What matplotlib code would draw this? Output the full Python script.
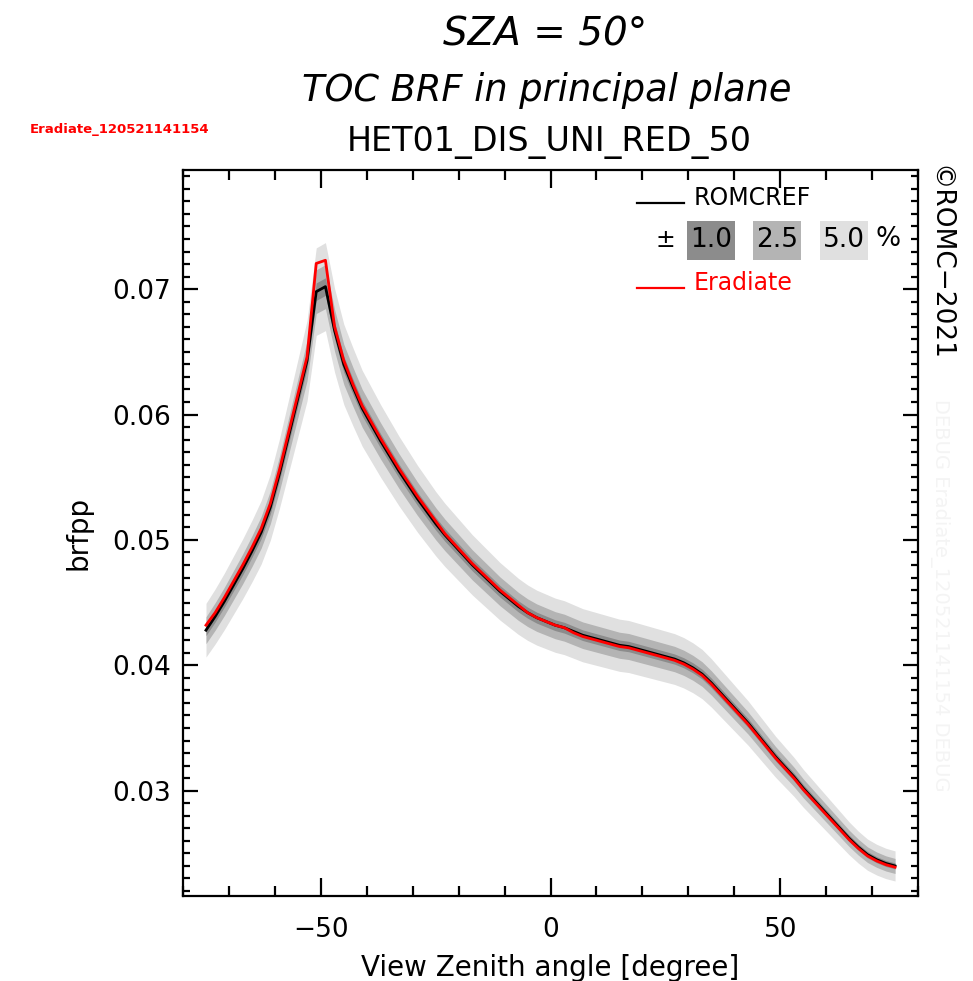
import numpy as np
import matplotlib
matplotlib.use('Agg')
from matplotlib import pyplot as plt
from matplotlib.patches import Rectangle
from matplotlib.ticker import MultipleLocator

plt.rcParams['font.family'] = ['DejaVu Sans']

# view zenith angles (degree)
vza = [-75, -73, -71, -69, -67, -65, -63, -61, -59, -57, -55, -53, -51, -49,
       -47, -45, -43, -41, -39, -37, -35, -33, -31, -29, -27, -25, -23, -21,
       -19, -17, -15, -13, -11, -9, -7, -5, -3, -1, 1, 3, 5, 7, 9, 11, 13, 15,
       17, 19, 21, 23, 25, 27, 29, 31, 33, 35, 37, 39, 41, 43, 45, 47, 49, 51,
       53, 55, 57, 59, 61, 63, 65, 67, 69, 71, 73, 75]

romcref = [0.0428, 0.0439, 0.0451, 0.0464, 0.0477, 0.0491, 0.0506, 0.0526,
           0.0553, 0.0583, 0.0613, 0.0643, 0.0698, 0.0702, 0.0667, 0.0640,
           0.0622, 0.0605, 0.0592, 0.0579, 0.0567, 0.0555, 0.0544, 0.0533,
           0.0523, 0.0513, 0.0504, 0.0496, 0.0488, 0.0480, 0.0473, 0.0466,
           0.0459, 0.0453, 0.0447, 0.0442, 0.0438, 0.0435, 0.0432, 0.0430,
           0.0427, 0.0424, 0.0422, 0.0420, 0.0418, 0.0416, 0.0415, 0.0413,
           0.0411, 0.0409, 0.0407, 0.0405, 0.0402, 0.0398, 0.0393, 0.0386,
           0.0378, 0.0370, 0.0362, 0.0354, 0.0345, 0.0336, 0.0327, 0.0319,
           0.0311, 0.0302, 0.0294, 0.0286, 0.0278, 0.0270, 0.0262, 0.0255,
           0.0249, 0.0245, 0.0242, 0.0240]

eradiate = [0.0432, 0.0442, 0.0454, 0.0467, 0.0480, 0.0494, 0.0509, 0.0529,
            0.0556, 0.0586, 0.0616, 0.0646, 0.07205, 0.0723, 0.0670, 0.0643,
            0.0624, 0.0607, 0.0594, 0.0581, 0.0569, 0.0557, 0.0546, 0.0535,
            0.0525, 0.0515, 0.0505, 0.0497, 0.0489, 0.0481, 0.0474, 0.0467,
            0.0460, 0.0454, 0.0448, 0.0442, 0.0438, 0.0435, 0.0432, 0.0430,
            0.0426, 0.0423, 0.0421, 0.0419, 0.0417, 0.0415, 0.0414, 0.0412,
            0.0410, 0.0408, 0.0406, 0.0404, 0.0401, 0.0397, 0.0392, 0.0385,
            0.0377, 0.0369, 0.0361, 0.0353, 0.0344, 0.0335, 0.0326, 0.0318,
            0.0310, 0.0301, 0.0293, 0.0285, 0.0277, 0.0269, 0.0261, 0.0254,
            0.0248, 0.0244, 0.0241, 0.0239]

pct = [5.0, 2.5, 1.0]
pct_labels = ['5.0', '2.5', '1.0']
band_cols = ['#e0e0e0', '#b4b4b4', '#8c8c8c']

x = np.array(vza)
ref = np.array(romcref)

fig = plt.figure(figsize=(9.73, 9.81), dpi=100)
ax = fig.add_axes([0.1881, 0.0866, 0.7554, 0.7401])

for p, c in zip(pct, band_cols):
    ax.fill_between(x, ref * (1 - p / 100), ref * (1 + p / 100), color=c, lw=0)
ax.plot(x, ref, color='black', lw=2)
ax.plot(x, eradiate, color='red', lw=2)

ax.set_xlim(-80, 80)
ax.set_ylim(0.0216, 0.0795)
ax.xaxis.set_major_locator(MultipleLocator(50))
ax.xaxis.set_minor_locator(MultipleLocator(10))
ax.yaxis.set_major_locator(MultipleLocator(0.01))
ax.yaxis.set_minor_locator(MultipleLocator(0.001))
ax.tick_params(axis='both', which='both', direction='in', top=True, right=True,
               width=1.6, labelsize=19)
ax.tick_params(axis='x', which='major', length=13, pad=15)
ax.tick_params(axis='x', which='minor', length=7)
ax.tick_params(axis='y', which='major', length=11, pad=9)
ax.tick_params(axis='y', which='minor', length=5)
ax.set_xticks([-50, 0, 50])
ax.set_xticklabels(['\u221250', '0', '50'])
ax.set_yticks([0.03, 0.04, 0.05, 0.06, 0.07])
ax.set_yticklabels(['0.03', '0.04', '0.05', '0.06', '0.07'])
for s in ax.spines.values():
    s.set_linewidth(1.6)
ax.set_xlabel('View Zenith angle [degree]', fontsize=20, labelpad=8)
ax.set_ylabel('brfpp', fontsize=20, labelpad=14)

# legend drawn by hand
tr = ax.transAxes
ax.plot([0.617, 0.681], [0.955, 0.955], color='black', lw=1.6, transform=tr)
ax.text(0.695, 0.962, 'ROMCREF', transform=tr, fontsize=17, va='center')
ax.text(0.6558, 0.903, '\u00b1', transform=tr, fontsize=17, va='center', ha='center')
box_x = [0.8667, 0.7751, 0.6853]
for bx, lab, c in zip(box_x, pct_labels, band_cols):
    ax.add_patch(Rectangle((bx, 0.876), 0.0657, 0.0537, transform=tr,
                           facecolor=c, edgecolor='none'))
    ax.text(bx + 0.0328, 0.903, lab, transform=tr, fontsize=19, ha='center', va='center')
ax.text(0.9415, 0.905, '%', transform=tr, fontsize=19, va='center', ha='left')
ax.plot([0.617, 0.681], [0.838, 0.838], color='red', lw=1.6, transform=tr)
ax.text(0.695, 0.845, 'Eradiate', transform=tr, fontsize=17, va='center', color='red')

# titles
fig.text(0.560, 0.965, 'SZA = 50\u00b0', fontsize=28, style='italic', ha='center',
         va='center')
fig.text(0.562, 0.908, 'TOC BRF in principal plane', fontsize=26.5, style='italic',
         ha='center', va='center')
fig.text(0.565, 0.855, 'HET01_DIS_UNI_RED_50', fontsize=24, ha='center', va='center')
fig.text(0.031, 0.8675, 'Eradiate_120521141154', fontsize=9.5, color='red',
         weight='bold', ha='left', va='center')
fig.text(0.966, 0.832, '\u00a9ROMC\u22122021', fontsize=19, rotation=-90,
         ha='center', va='top')
fig.text(0.966, 0.393, 'DEBUG Eradiate_120521141154 DEBUG', fontsize=14, rotation=-90,
         ha='center', va='center', color='#f4f4f4')

fig.savefig('out.png', dpi=100)
